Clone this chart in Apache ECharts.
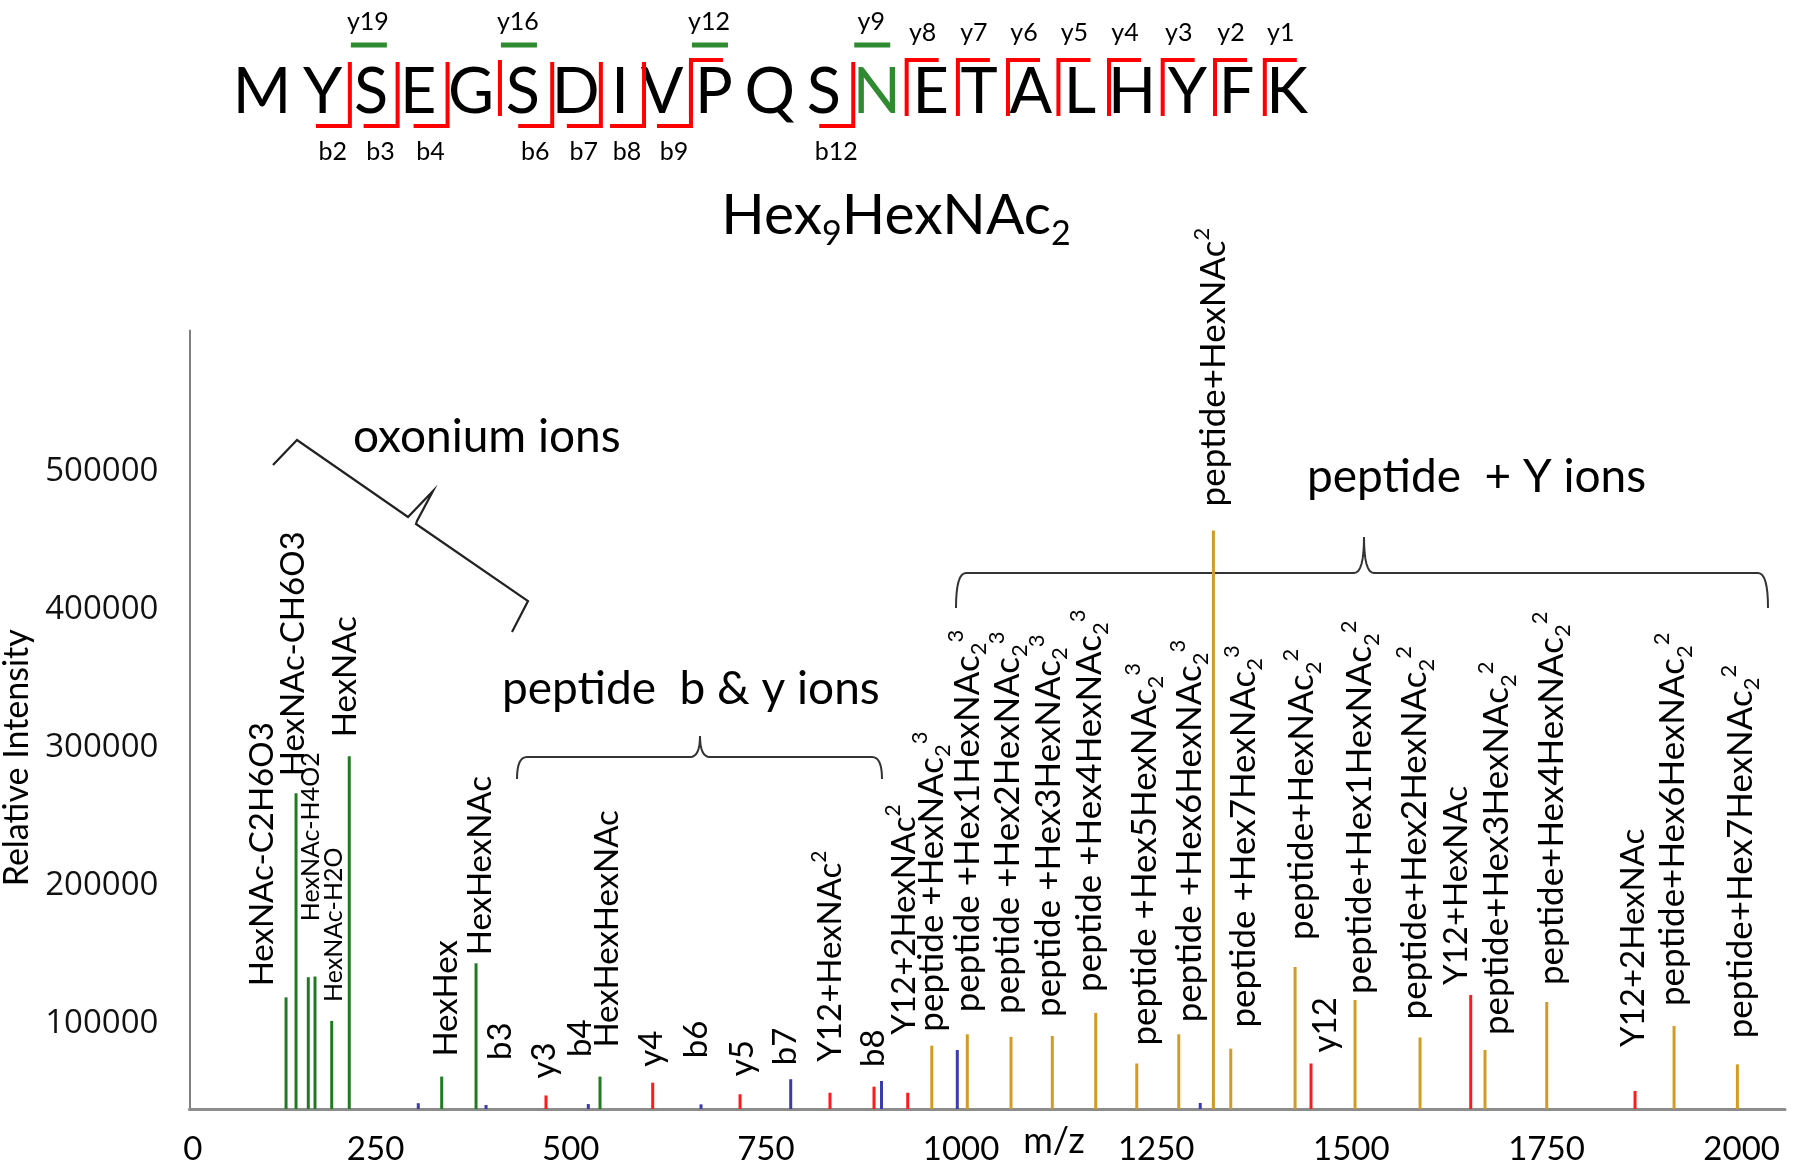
<!DOCTYPE html>
<html>
<head>
<meta charset="utf-8">
<script src="https://cdn.jsdelivr.net/npm/echarts@6/dist/echarts.min.js"></script>
<style>
html,body{margin:0;padding:0;background:#ffffff;}
#chart{width:1800px;height:1176px;}
</style>
</head>
<body>
<div id="chart"></div>
<script>
// ================= DATA =================
// Peptide sequence and fragment annotation
const sequence = ['M','Y','S','E','G','S','D','I','V','P','Q','S','N','E','T','A','L','H','Y','F','K'];
const glycoSiteIndex = 12;                 // N (green)
const bIons = [2, 3, 4, 6, 7, 8, 9, 12];   // red bottom brackets
const yIons = [12, 8, 7, 6, 5, 4, 3, 2, 1];// red top brackets
const yIonLabels = [8, 7, 6, 5, 4, 3, 2, 1];
const glycoYIons = [19, 16, 12, 9];        // green bars
const glycanTitle = 'Hex₉HexNAc₂';

// Axis ticks
const xTicks = [0, 250, 500, 750, 1000, 1250, 1500, 1750, 2000];
const yTicks = [100000, 200000, 300000, 400000, 500000];

// Oxonium ions (green)
const oxoniumMz  = [123.8, 136.6, 152.3, 160.9, 182.3, 204.8, 323.2, 367.2, 526.0];
const oxoniumInt = [118700, 266700, 133300, 133800, 101600, 293600, 61200, 143400, 61200];
const oxoniumLabels = ['HexNAc-C2H6O3', 'HexNAc-CH6O3', 'HexNAc-H4O2', '', 'HexNAc-H2O', 'HexNAc', 'HexHex', 'HexHexNAc', 'HexHexHexNAc'];

// b ions (blue)
const bIonMz  = [293.2, 380.0, 511.0, 655.4, 770.3, 886.6, 983.7, 1294.9];
const bIonInt = [41900, 40600, 41300, 41100, 59300, 58000, 80500, 42100];
const bIonPeakLabels = ['', 'b3', 'b4', 'b6', 'b7', 'b8', '', ''];

// y / Y ions (red)
const yIonMz  = [456.8, 593.5, 705.4, 820.6, 877.0, 920.2, 1436.8, 1641.4, 1851.9];
const yIonInt = [47500, 56800, 48400, 49500, 53900, 49500, 70700, 120400, 50800];
const yIonPeakLabels = ['y3', 'y4', 'y5', 'Y12+HexNAc²', '', 'Y12+2HexNAc²', 'y12', 'Y12+HexNAc', 'Y12+2HexNAc'];

// peptide + glycan (gold)
const glycoMz  = [951.0, 996.5, 1052.5, 1105.4, 1161.0, 1213.6, 1267.4, 1311.8, 1334.0, 1416.4, 1493.2, 1576.5, 1659.7, 1738.8, 1901.9, 1983.0];
const glycoInt = [83600, 91900, 90000, 90700, 107400, 70700, 91900, 457400, 81500, 140700, 116800, 89600, 80500, 115300, 97900, 70100];
const glycoLabels = [
  'peptide +HexNAc₂³', 'peptide +Hex1HexNAc₂³', 'peptide +Hex2HexNAc₂³', 'peptide +Hex3HexNAc₂³',
  'peptide +Hex4HexNAc₂³', 'peptide +Hex5HexNAc₂³', 'peptide +Hex6HexNAc₂³', 'peptide+HexNAc²',
  'peptide +Hex7HexNAc₂³', 'peptide+HexNAc₂²', 'peptide+Hex1HexNAc₂²', 'peptide+Hex2HexNAc₂²',
  'peptide+Hex3HexNAc₂²', 'peptide+Hex4HexNAc₂²', 'peptide+Hex6HexNAc₂²', 'peptide+Hex7HexNAc₂²'
];

// Group annotations
const groupTexts = ['oxonium ions', 'peptide  b & y ions', 'peptide  + Y ions'];
const axisNames = ['m/z', 'Relative Intensity'];

// ================= LAYOUT (pixels) =================
const X_MAX = 2044, Y_MIN = 37700, Y_MAX = 602400;
const oxoniumLabelShift = [[-24,-11],[-3,-17],[3,-56],[0,0],[2,-19],[-4,-19],[5,-20],[4,-8],[7,-29]];
const bIonLabelShift = [[0,0],[14,-45],[-8,-47],[-5,-46],[-5,-14],[-8,-14],[0,0],[0,0]];
const yIonLabelShift = [[-2,-17],[-1,-16],[2,-18],[0,-31],[0,0],[-3,-58],[14,-11],[-14,-10],[-2,-44]];
const glycoLabelShift = [[0,-14],[0,-22],[-3,-23],[-4,-19],[-6,-21],[8,-18],[11,-12],[0,-24],[13,-21],[7,-27],[5,-6],[-5,-18],[12,-15],[5,-17],[-1,-20],[3,-26]];
const SMALL_LABELS = ['HexNAc-H4O2', 'HexNAc-H2O'];

const FONT = 'Lato, "Open Sans", sans-serif';
const COLORS = { green: '#217a21', blue: '#3b3bb0', red: '#ff1a1a', gold: '#d49b24', seqRed: '#ff0000', seqGreen: '#2e8b30' };

const SEQ = { firstCenter: 262, lastCenter: 1287, y: 93, font: 63 };

function richify(s) {
  return s.replace(/₂/g, '{sub|2}').replace(/₉/g, '{sub|9}').replace(/³/g, '{sup|3}').replace(/²/g, '{sup|2}');
}
function richFor(size) {
  return {
    sub: { fontFamily: FONT, fontSize: size, lineHeight: size, verticalAlign: 'bottom', fill: '#000' },
    sup: { fontFamily: FONT, fontSize: size, lineHeight: size, verticalAlign: 'top', fill: '#000' }
  };
}

function labelFont(lab) {
  if (SMALL_LABELS.indexOf(lab) >= 0) return { size: 25, lh: 30, rich: richFor(16) };
  if (lab.indexOf('peptide') === 0) return { size: 35, lh: 45, rich: richFor(22) };
  return { size: 33, lh: 43, rich: richFor(21) };
}

function peakSeries(name, color, mz, inten, labels, shifts) {
  return {
    type: 'custom',
    name: name,
    coordinateSystem: 'cartesian2d',
    data: mz.map((m, i) => [m, inten[i]]),
    encode: { x: 0, y: 1 },
    renderItem: function (params, api) {
      const idx = params.dataIndex;
      const top = api.coord([api.value(0), api.value(1)]);
      const base = api.coord([api.value(0), Y_MIN]);
      const children = [{
        type: 'line',
        shape: { x1: top[0], y1: base[1], x2: top[0], y2: top[1] },
        style: { stroke: color, lineWidth: 3 }
      }];
      const lab = labels[idx];
      if (lab) {
        const f = labelFont(lab);
        const sh = shifts[idx];
        children.push({
          type: 'text',
          x: top[0] + sh[0],
          y: top[1] + sh[1],
          rotation: Math.PI / 2,
          style: {
            text: richify(lab),
            fontFamily: FONT,
            fontSize: f.size,
            lineHeight: f.lh,
            fill: '#000',
            align: 'left',
            verticalAlign: 'middle',
            rich: f.rich
          }
        });
      }
      return { type: 'group', children: children };
    }
  };
}

// ---------- sequence diagram (proportional letter layout) ----------
const measureCtx = document.createElement('canvas').getContext('2d');
measureCtx.font = SEQ.font + 'px Lato';
const widths = sequence.map(a => measureCtx.measureText(a).width);
let halfSum = 0;
for (let i = 0; i < sequence.length - 1; i++) halfSum += (widths[i] + widths[i + 1]) / 2;
const letterGap = ((SEQ.lastCenter - SEQ.firstCenter) - halfSum) / (sequence.length - 1);
const centers = [SEQ.firstCenter];
for (let i = 1; i < sequence.length; i++) centers.push(centers[i - 1] + (widths[i - 1] + widths[i]) / 2 + letterGap);
function gapX(afterIndex) { return (centers[afterIndex] + centers[afterIndex + 1]) / 2 + 3; }

const graphics = [];
sequence.forEach((aa, i) => {
  graphics.push({
    type: 'text', x: centers[i], y: SEQ.y,
    style: { text: aa, fontFamily: FONT, fontSize: SEQ.font, fill: i === glycoSiteIndex ? COLORS.seqGreen : '#000', align: 'center', verticalAlign: 'middle' }
  });
});
const drawnVerticals = {};
bIons.forEach(n => {
  const g = gapX(n - 1);
  drawnVerticals[n - 1] = true;
  graphics.push({ type: 'polyline', shape: { points: [[g, 62], [g, 126], [g - 34, 126]] }, style: { stroke: COLORS.seqRed, lineWidth: 4, fill: null } });
  graphics.push({ type: 'text', x: g - 17, y: 152, style: { text: 'b' + n, fontFamily: FONT, fontSize: 25, fill: '#000', align: 'center', verticalAlign: 'middle' } });
});
yIons.forEach(n => {
  const a = sequence.length - 1 - n;
  const g = gapX(a);
  drawnVerticals[a] = true;
  graphics.push({ type: 'polyline', shape: { points: [[g, 116], [g, 60], [g + 32, 60]] }, style: { stroke: COLORS.seqRed, lineWidth: 4, fill: null } });
});
yIonLabels.forEach(n => {
  const g = gapX(sequence.length - 1 - n);
  graphics.push({ type: 'text', x: g + 16, y: 33, style: { text: 'y' + n, fontFamily: FONT, fontSize: 25, fill: '#000', align: 'center', verticalAlign: 'middle' } });
});
glycoYIons.forEach(n => {
  const a = sequence.length - 1 - n;
  const g = gapX(a);
  if (!drawnVerticals[a]) {
    graphics.push({ type: 'line', shape: { x1: g, y1: 60, x2: g, y2: 116 }, style: { stroke: COLORS.seqRed, lineWidth: 4 } });
  }
  graphics.push({ type: 'line', shape: { x1: g + 1, y1: 45, x2: g + 37, y2: 45 }, style: { stroke: COLORS.seqGreen, lineWidth: 5 } });
  graphics.push({ type: 'text', x: g + 18, y: 22, style: { text: 'y' + n, fontFamily: FONT, fontSize: 25, fill: '#000', align: 'center', verticalAlign: 'middle' } });
});

// title
graphics.push({
  type: 'text', x: 896, y: 216,
  style: {
    text: richify(glycanTitle), fontFamily: FONT, fontSize: 57, lineHeight: 70, fill: '#000', align: 'center', verticalAlign: 'middle',
    rich: { sub: { fontFamily: FONT, fontSize: 34, lineHeight: 34, verticalAlign: 'bottom', fill: '#000' } }
  }
});

// braces (curly brackets drawn as polylines with rounded corners)
function quad(p0, c, p1, n) {
  const pts = [];
  for (let k = 1; k <= n; k++) {
    const t = k / n, u = 1 - t;
    pts.push([u * u * p0[0] + 2 * u * t * c[0] + t * t * p1[0], u * u * p0[1] + 2 * u * t * c[1] + t * t * p1[1]]);
  }
  return pts;
}
function hBrace(x1, x2, yLine, yEnd, xTip, yTip, r) {
  let pts = [[x1, yEnd]];
  pts = pts.concat(quad([x1, yEnd], [x1, yLine], [x1 + r, yLine], 8));
  pts.push([xTip - r, yLine]);
  pts = pts.concat(quad([xTip - r, yLine], [xTip, yLine], [xTip, yTip], 8));
  pts = pts.concat(quad([xTip, yTip], [xTip, yLine], [xTip + r, yLine], 8));
  pts.push([x2 - r, yLine]);
  pts = pts.concat(quad([x2 - r, yLine], [x2, yLine], [x2, yEnd], 8));
  return pts;
}
const BRACE_STYLE = { stroke: '#333', lineWidth: 2, fill: null };
graphics.push({ type: 'polyline', shape: { points: [[273,465],[297,440],[408,517],[433,491],[417,521],[416,524],[528,601],[512,632]] }, style: { stroke: '#222', lineWidth: 2.2, fill: null } });
graphics.push({ type: 'polyline', shape: { points: hBrace(517, 882, 757, 779, 700, 736, 10) }, style: BRACE_STYLE });
graphics.push({ type: 'polyline', shape: { points: hBrace(956, 1768, 573, 608, 1364, 537, 10) }, style: BRACE_STYLE });

// group texts
graphics.push({ type: 'text', x: 353, y: 437, style: { text: groupTexts[0], fontFamily: FONT, fontSize: 46, fill: '#000', align: 'left', verticalAlign: 'middle' } });
graphics.push({ type: 'text', x: 502, y: 689, style: { text: groupTexts[1], fontFamily: FONT, fontSize: 46, fill: '#000', align: 'left', verticalAlign: 'middle' } });
graphics.push({ type: 'text', x: 1307, y: 477, style: { text: groupTexts[2], fontFamily: FONT, fontSize: 46, fill: '#000', align: 'left', verticalAlign: 'middle' } });

// x-axis title
graphics.push({ type: 'text', x: 1054, y: 1141, style: { text: axisNames[0], fontFamily: FONT, fontSize: 36, fill: '#000', align: 'center', verticalAlign: 'middle' } });

// ================= CHART =================
const chart = echarts.init(document.getElementById('chart'), null, { renderer: 'canvas' });
const option = {
  animation: false,
  backgroundColor: '#ffffff',
  grid: { left: 189.4, right: 15, top: 330.5, bottom: 67, containLabel: false, outerBoundsMode: 'none' },
  xAxis: {
    type: 'value', min: 0, max: X_MAX,
    axisLine: { show: true, onZero: false, lineStyle: { color: '#8c8c8c', width: 3 } },
    axisTick: { show: false },
    splitLine: { show: false },
    axisLabel: {
      customValues: xTicks,
      margin: 24,
      formatter: function (v) { return v === 0 ? '{z|0}' : '{n|' + v + '}'; },
      rich: {
        z: { fontFamily: FONT, fontSize: 33, color: '#000', padding: [0, 0, 0, 7] },
        n: { fontFamily: FONT, fontSize: 33, color: '#000', padding: [0, 18, 0, 0] }
      }
    }
  },
  yAxis: {
    type: 'value', min: Y_MIN, max: Y_MAX,
    axisLine: { show: true, onZero: false, lineStyle: { color: '#808080', width: 2 } },
    axisTick: { show: false },
    splitLine: { show: false },
    axisLabel: { customValues: yTicks, margin: 31, formatter: function (v) { return String(v); }, fontFamily: '"Open Sans", sans-serif', fontSize: 33, color: '#111' },
    name: axisNames[1], nameLocation: 'middle', nameRotate: 90, nameGap: 147,
    nameTextStyle: { fontFamily: FONT, fontSize: 34, color: '#000', padding: [0, 76, 0, 0] }
  },
  series: [
    peakSeries('oxonium ions', COLORS.green, oxoniumMz, oxoniumInt, oxoniumLabels, oxoniumLabelShift),
    peakSeries('b ions', COLORS.blue, bIonMz, bIonInt, bIonPeakLabels, bIonLabelShift),
    peakSeries('y ions', COLORS.red, yIonMz, yIonInt, yIonPeakLabels, yIonLabelShift),
    peakSeries('peptide + Y ions', COLORS.gold, glycoMz, glycoInt, glycoLabels, glycoLabelShift)
  ],
  graphic: graphics
};
chart.setOption(option);
</script>
</body>
</html>
